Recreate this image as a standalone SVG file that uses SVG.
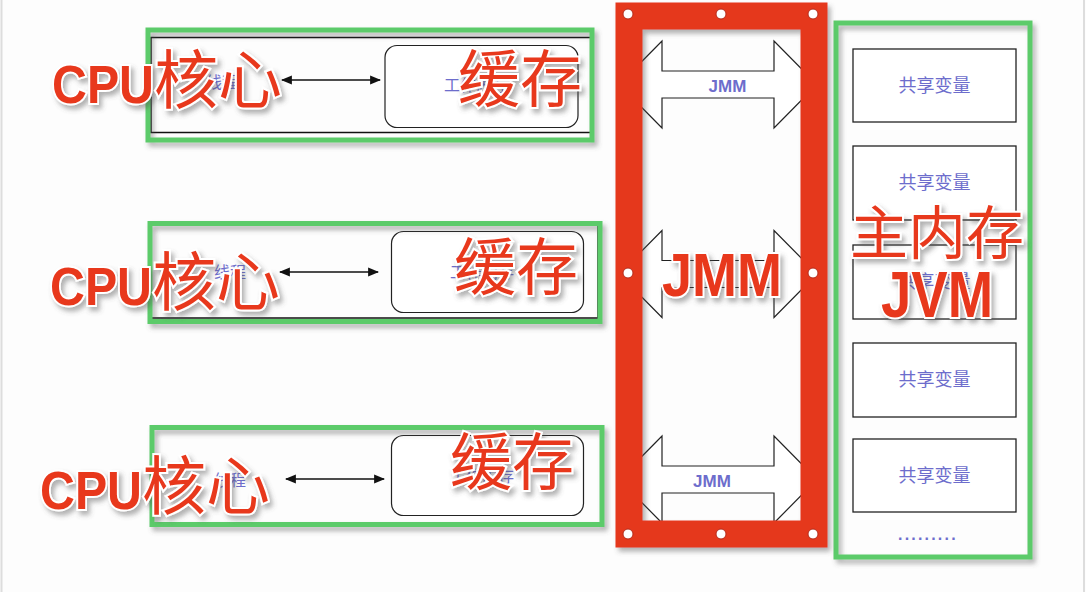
<svg xmlns="http://www.w3.org/2000/svg" width="1086" height="592" viewBox="0 0 1086 592">
<defs>
<style>
.bg{fill:#fdfdfd}
.cont{fill:none;stroke:#111;stroke-width:1.5}
.rr{fill:#fff;stroke:#222;stroke-width:1.2}
.blue{font-family:"Liberation Sans","Noto Sans CJK SC",sans-serif;fill:#6d6dcc}
.cn{font-family:"Noto Sans CJK SC",sans-serif}
.conn{stroke:#111;stroke-width:1.3;fill:none;marker-start:url(#ah);marker-end:url(#ah)}
.blk{fill:#fff;stroke:#222;stroke-width:1.2}
.sv{fill:#fff;stroke:#222;stroke-width:1.3}
.green{fill:none;stroke:#5ccb6b;stroke-width:5;filter:url(#sh)}
.ov{fill:#e8391f;stroke:#fff;stroke-width:4;paint-order:stroke;filter:url(#sh)}
.bold{font-family:"Liberation Sans",Arial,sans-serif;font-weight:bold}
.handle{fill:#fff;stroke:#b52a1a;stroke-width:1}
</style>
<marker id="ah" viewBox="0 0 10 10" refX="9" refY="5" markerWidth="11" markerHeight="11" orient="auto-start-reverse" markerUnits="userSpaceOnUse">
<path d="M0,1 L10,5 L0,9 z" fill="#111"/>
</marker>
<filter id="sh" x="-10%" y="-10%" width="130%" height="140%">
<feDropShadow dx="3" dy="4" stdDeviation="2.5" flood-color="#555" flood-opacity="0.45"/>
</filter>
</defs>
<rect class="bg" x="0" y="0" width="1086" height="592"/>
<line x1="1.5" y1="0" x2="1.5" y2="592" stroke="#ddd" stroke-width="2"/>
<line x1="1084" y1="0" x2="1084" y2="592" stroke="#ddd" stroke-width="2"/>

<g id="thread1">
<rect class="cont" x="151" y="37.5" width="442" height="95"/>
<rect id="cache1" class="rr" x="385" y="45.5" width="193" height="82" rx="12"/>
<text class="blue cn" x="206" y="88" font-size="16">线程</text>
<text class="blue cn" x="444" y="91" font-size="16">工作内存</text>
</g>
<g id="thread2">
<rect class="cont" x="151" y="222" width="447" height="96"/>
<rect id="cache2" class="rr" x="391.5" y="231.5" width="192" height="81" rx="12"/>
<text class="blue cn" x="214" y="278" font-size="16">线程</text>
<text class="blue cn" x="450" y="278" font-size="16">工作内存</text>
</g>
<g id="thread3">
<rect id="cache3" class="rr" x="391.5" y="435.5" width="192" height="80" rx="12"/>
<text class="blue cn" x="214" y="486" font-size="16">线程</text>
<text class="blue cn" x="450" y="482" font-size="16">工作内存</text>
</g>

<g id="connectors">
<line class="conn" x1="282" y1="80" x2="380" y2="80"/>
<line class="conn" x1="280" y1="272" x2="378" y2="272"/>
<line class="conn" x1="286" y1="479" x2="384" y2="479"/>
</g>

<g id="jmm-arrows">
<path class="blk" d="M619,84.5 L662,41 L662,71 L774,71 L774,41 L817,84.5 L774,128 L774,98 L662,98 L662,128 Z"/>
<text class="blue" x="727.5" y="92" font-size="17" font-weight="bold" text-anchor="middle">JMM</text>
<path class="blk" d="M619,274 L662,230.5 L662,260.5 L774,260.5 L774,230.5 L817,274 L774,317.5 L774,287.5 L662,287.5 L662,317.5 Z"/>
<path class="blk" d="M619,479.5 L662,436 L662,466 L774,466 L774,436 L817,479.5 L774,523 L774,493 L662,493 L662,523 Z"/>
<text class="blue" x="712" y="487" font-size="17" font-weight="bold" text-anchor="middle">JMM</text>
</g>

<g id="main-memory">
<rect class="sv" x="853" y="49" width="163" height="73"/>
<text class="blue cn" x="934.5" y="91.5" font-size="18" text-anchor="middle">共享变量</text>
<rect class="sv" x="853" y="146" width="163" height="74"/>
<text class="blue cn" x="934.5" y="189" font-size="18" text-anchor="middle">共享变量</text>
<rect class="sv" x="853" y="245" width="163" height="74"/>
<text class="blue cn" x="934.5" y="288" font-size="18" text-anchor="middle">共享变量</text>
<rect class="sv" x="853" y="343" width="163" height="74"/>
<text class="blue cn" x="934.5" y="386" font-size="18" text-anchor="middle">共享变量</text>
<rect class="sv" x="853" y="439" width="163" height="73"/>
<text class="blue cn" x="934.5" y="482" font-size="18" text-anchor="middle">共享变量</text>
<text class="blue" x="898" y="540" font-size="16" font-weight="bold" letter-spacing="2.2">.........</text>
</g>

<g id="green-boxes">
<rect class="green" x="148" y="30" width="444" height="110"/>
<rect class="green" x="150" y="223.5" width="450" height="98"/>
<rect class="green" x="152" y="427.5" width="450" height="97"/>
<rect class="green" x="836" y="23" width="194" height="534"/>
</g>

<g id="jmm-frame">
<rect x="629" y="16" width="185" height="518" fill="none" stroke="#e5371f" stroke-width="27" filter="url(#sh)"/>
<circle class="handle" cx="628" cy="14" r="5"/>
<circle class="handle" cx="721" cy="14" r="5"/>
<circle class="handle" cx="813" cy="14" r="5"/>
<circle class="handle" cx="628" cy="273" r="5"/>
<circle class="handle" cx="813" cy="273" r="5"/>
<circle class="handle" cx="628" cy="534" r="5"/>
<circle class="handle" cx="721" cy="534" r="5"/>
<circle class="handle" cx="813" cy="534" r="5"/>
</g>

<g id="labels">
<text class="ov" x="52" y="103"><tspan class="bold" font-size="54" textLength="102" lengthAdjust="spacingAndGlyphs">CPU</tspan><tspan class="cn" font-size="64">核心</tspan></text>
<text class="ov cn" x="458" y="102" font-size="62">缓存</text>
<text class="ov" x="50" y="305"><tspan class="bold" font-size="54" textLength="102" lengthAdjust="spacingAndGlyphs">CPU</tspan><tspan class="cn" font-size="64">核心</tspan></text>
<text class="ov cn" x="454" y="290" font-size="62">缓存</text>
<text class="ov" x="40" y="509"><tspan class="bold" font-size="54" textLength="102" lengthAdjust="spacingAndGlyphs">CPU</tspan><tspan class="cn" font-size="64">核心</tspan></text>
<text class="ov cn" x="450" y="485" font-size="62">缓存</text>
<text class="ov bold" x="662" y="296" font-size="62" textLength="120" lengthAdjust="spacingAndGlyphs">JMM</text>
<text class="ov cn" x="850" y="254" font-size="58">主内存</text>
<text class="ov bold" x="881" y="317" font-size="64" textLength="112" lengthAdjust="spacingAndGlyphs">JVM</text>
</g>
</svg>
